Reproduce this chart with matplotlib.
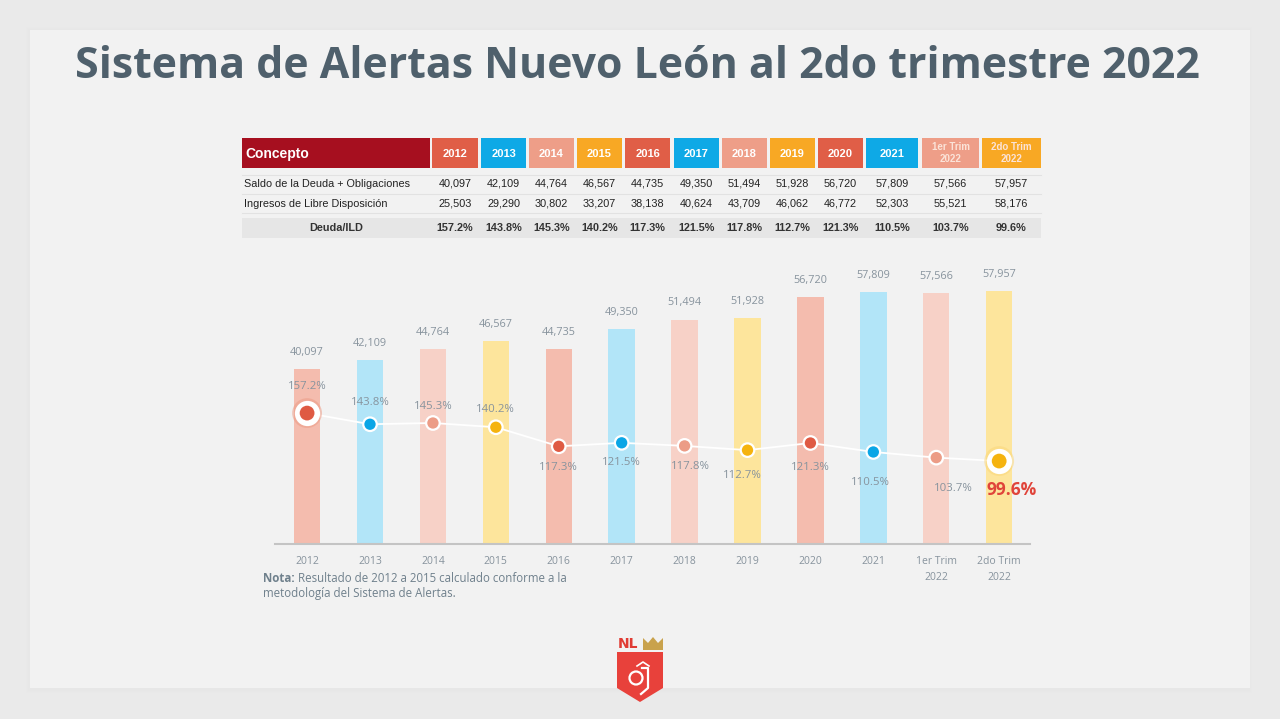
import matplotlib
matplotlib.use("Agg")
import matplotlib.pyplot as plt
from matplotlib.patches import Rectangle, Polygon, Circle
import numpy as np

W, H = 1280, 719

# --- data ---
periods = ["2012", "2013", "2014", "2015", "2016", "2017", "2018", "2019",
           "2020", "2021", "1er Trim\n2022", "2do Trim\n2022"]
saldo_deuda = [40097, 42109, 44764, 46567, 44735, 49350, 51494, 51928,
               56720, 57809, 57566, 57957]
ingresos_ld = [25503, 29290, 30802, 33207, 38138, 40624, 43709, 46062,
               46772, 52303, 55521, 58176]
deuda_ild = [157.2, 143.8, 145.3, 140.2, 117.3, 121.5, 117.8, 112.7,
             121.3, 110.5, 103.7, 99.6]
row_names = ["Saldo de la Deuda + Obligaciones", "Ingresos de Libre Disposición"]

# colour group per period (r=red, b=blue, s=salmon, y=yellow)
groups = ["r", "b", "s", "y", "r", "b", "s", "y", "r", "b", "s", "y"]
head_col = {"r": "#e05e47", "b": "#0ea9e6", "s": "#ee9e88", "y": "#f8a824"}
bar_col = {"r": "#f4bcae", "b": "#b2e5f8", "s": "#f7d1c7", "y": "#fde59c"}
dot_col = {"r": "#df5a43", "b": "#0aa6e6", "s": "#ec9c86", "y": "#f5b30f"}

GRAY_TXT = "#87939d"
TITLE_COL = "#4f606c"

fig = plt.figure(figsize=(W / 100, H / 100), dpi=100)
fig.patch.set_facecolor("#eaeaea")

# full-figure pixel axes for background, table, notes, logo
bg = fig.add_axes([0, 0, 1, 1])
bg.set_xlim(0, W)
bg.set_ylim(H, 0)
bg.axis("off")

# card + soft shadow
for i, a in enumerate([0.05, 0.04, 0.03]):
    bg.add_patch(Rectangle((30 - 2 - i, 30 - 1 - i), 1222 + 2 * i, 662 + 2 * i,
                           facecolor="#d8d8d8", alpha=a, edgecolor="none"))
bg.add_patch(Rectangle((30, 30), 1220, 658, facecolor="#f2f2f2", edgecolor="none"))

title = bg.text(637, 66, "Sistema de Alertas Nuevo León al 2do trimestre 2022",
                ha="center", va="center", fontsize=30, fontweight="bold",
                color=TITLE_COL, family="Open Sans")
fig.canvas.draw()
tw = title.get_window_extent(renderer=fig.canvas.get_renderer()).width
title.set_fontsize(30 * 1127 / tw)

# --- table ---
col_x = [432, 481, 529, 577, 625, 674, 722, 770, 818, 866, 922, 982]
col_w = [46, 45, 45, 45, 45, 45, 45, 45, 45, 52, 57, 59]
tfont = "Liberation Sans"
bg.add_patch(Rectangle((242, 138), 188, 30, facecolor="#a60f1f", edgecolor="none"))
bg.text(245, 154, "Concepto", ha="left", va="center", fontsize=10,
        fontweight="bold", color="white", family=tfont)
for i, p in enumerate(periods):
    cx = col_x[i] + col_w[i] / 2
    bg.add_patch(Rectangle((col_x[i], 138), col_w[i], 30,
                           facecolor=head_col[groups[i]], edgecolor="none"))
    if "\n" in p:
        bg.text(cx, 153, p, ha="center", va="center", fontsize=7,
                fontweight="bold", color="#fbe3d8", family=tfont,
                linespacing=1.2)
    else:
        bg.text(cx, 154, p, ha="center", va="center", fontsize=8,
                fontweight="bold", color="white", family=tfont)

for y in [175, 194, 213]:
    bg.plot([242, 1041], [y, y], color="#e2e2e2", lw=0.8)
bg.add_patch(Rectangle((242, 218), 799, 20, facecolor="#e6e6e6", edgecolor="none"))

for r, (name, vals) in enumerate(zip(row_names, [saldo_deuda, ingresos_ld])):
    y = 184 + r * 20
    bg.text(244, y, name, ha="left", va="center", fontsize=7.8,
            color="#222222", family=tfont)
    for i, v in enumerate(vals):
        bg.text(col_x[i] + col_w[i] / 2, y, f"{v:,}", ha="center",
                va="center", fontsize=7.8, color="#222222", family=tfont)
bg.text(336, 228, "Deuda/ILD", ha="center", va="center", fontsize=7.8,
        fontweight="bold", color="#333333", family=tfont)
for i, v in enumerate(deuda_ild):
    bg.text(col_x[i] + col_w[i] / 2, 228, f"{v:.1f}%", ha="center",
            va="center", fontsize=7.8, fontweight="bold", color="#333333",
            family=tfont)

# --- chart ---
cfont = "Open Sans"
left, right, bottom, top = 275, 1030, 544, 270
ax = fig.add_axes([left / W, 1 - bottom / H, (right - left) / W, (bottom - top) / H])
ax.patch.set_alpha(0)
x = np.arange(len(periods))
ax.bar(x, saldo_deuda, width=0.42, color=[bar_col[g] for g in groups], zorder=1)
ax.set_xlim(-0.51, 11.49)
ax.set_ylim(0, 62858)
for s in ["top", "right", "left"]:
    ax.spines[s].set_visible(False)
ax.spines["bottom"].set_color("#c4c4c4")
ax.spines["bottom"].set_linewidth(1.5)
ax.set_yticks([])
ax.set_xticks(x)
ax.set_xticklabels(periods, fontsize=7.5, color=GRAY_TXT, family=cfont,
                   linespacing=1.6)
ax.tick_params(axis="x", length=0, pad=9)
for i, v in enumerate(saldo_deuda):
    ax.annotate(f"{v:,}", (i, v), xytext=(0, 8), textcoords="offset points",
                ha="center", va="bottom", fontsize=7.8, color=GRAY_TXT,
                family=cfont)

ax2 = ax.twinx()
ax2.set_ylim(0, 329)
ax2.axis("off")
ax2.plot(x, deuda_ild, color="white", lw=1.3, zorder=2)
sizes = [150 if i in (0, 11) else 95 for i in range(len(x))]
ax2.scatter([0, 11], [deuda_ild[0], deuda_ild[11]], s=460,
            color=[dot_col["s"], "#fbd77a"], alpha=0.55, zorder=3, lw=0)
ax2.scatter([0, 11], [deuda_ild[0], deuda_ild[11]], s=330, color="white",
            zorder=3, lw=0)
ax2.scatter(x, deuda_ild, s=sizes, color=[dot_col[g] for g in groups],
            edgecolor="white", linewidth=1.6, zorder=4)

# label placement (offset in points) per period
offs = [(0, 19), (0, 16), (0, 12), (0, 13), (0, -15), (0, -14), (4, -15),
        (-4, -18), (0, -18), (-2, -22), (12, -22)]
for i, (dx, dy) in enumerate(offs):
    ax2.annotate(f"{deuda_ild[i]:.1f}%", (i, deuda_ild[i]), xytext=(dx, dy),
                 textcoords="offset points", ha="center", va="center",
                 fontsize=8.2, color=GRAY_TXT, family=cfont)
ax2.annotate(f"{deuda_ild[11]:.1f}%", (11, deuda_ild[11]),
             xytext=(9, -21), textcoords="offset points", ha="center",
             va="center", fontsize=12.5, fontweight="bold", color="#e0443a",
             family=cfont)

# --- note ---
NOTE_COL = "#6f808c"
t1 = bg.text(263, 579, "Nota:", ha="left", va="center", fontsize=8.3,
             fontweight="bold", color=NOTE_COL, family=cfont)
fig.canvas.draw()
bb = t1.get_window_extent(renderer=fig.canvas.get_renderer())
bg.text(263 + bb.width + 3, 579, "Resultado de 2012 a 2015 calculado conforme a la",
        ha="left", va="center", fontsize=8.3, color=NOTE_COL, family=cfont)
bg.text(263, 594, "metodología del Sistema de Alertas.", ha="left", va="center",
        fontsize=8.3, color=NOTE_COL, family=cfont)

# --- logo ---
shield = Polygon([(617, 652), (663, 652), (663, 688), (640, 702), (617, 688)],
                 closed=True, facecolor="#e8413b", edgecolor="none")
bg.add_patch(shield)
bg.text(618, 644, "NL", ha="left", va="center", fontsize=10, fontweight="bold",
        color="#e03b33", family="DejaVu Sans")
crown = Polygon([(643, 650), (643, 638), (648, 643), (653, 637), (658, 643),
                 (663, 638), (663, 650)], closed=True, facecolor="#c9a24c",
                edgecolor="none")
bg.add_patch(crown)
bg.add_patch(Circle((636, 678), 6.5, facecolor="none", edgecolor="white", lw=1.6))
bg.plot([642, 648, 648, 641], [668, 668, 688, 694], color="white", lw=1.6)
bg.plot([637, 643, 649], [666, 662, 666], color="white", lw=1.2)

fig.savefig("out.png", dpi=100, facecolor=fig.get_facecolor())
